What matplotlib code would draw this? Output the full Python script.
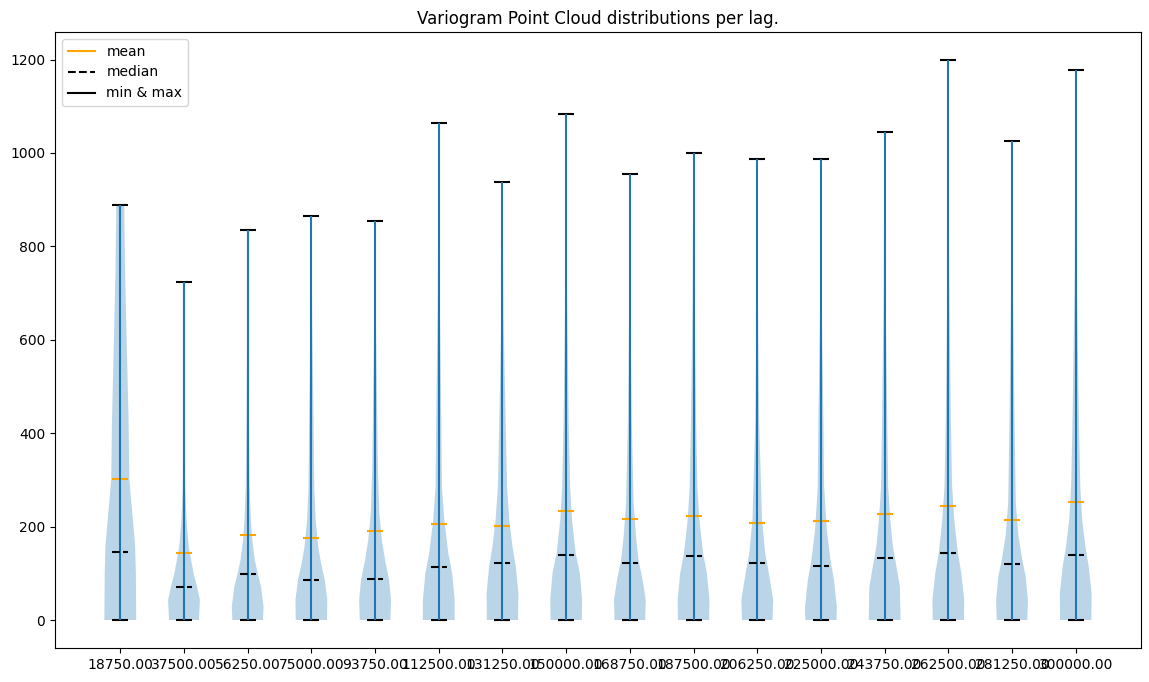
import matplotlib
matplotlib.use("Agg")
import matplotlib.pyplot as plt
from matplotlib.lines import Line2D

# lag class edges (x tick labels)
bins = [18750.0, 37500.0, 56250.0, 75000.0, 93750.0, 112500.0, 131250.0, 150000.0,
        168750.0, 187500.0, 206250.0, 225000.0, 243750.0, 262500.0, 281250.0, 300000.0]

# summary stats per lag
mins = [0] * 16
maxs = [888, 724, 834, 865, 854, 1064, 938, 1083, 955, 999, 987, 987, 1045, 1199, 1025, 1177]
means = [302, 144, 182, 176, 191, 206, 202, 234, 217, 223, 208, 212, 227, 244, 215, 253]
medians = [146, 71, 99, 86, 88, 114, 123, 140, 123, 138, 123, 116, 133, 144, 120, 140]

# violin outlines: semivariance values and relative density (width) at those values
shape_y = [
    [0, 100, 160, 210, 300, 430, 600, 750, 888],
    [0, 43, 71, 100, 128, 157, 214, 285, 428, 600, 724],
    [0, 28, 71, 100, 128, 171, 214, 285, 428, 650, 834],
    [0, 43, 86, 121, 157, 214, 285, 428, 650, 865],
    [0, 43, 86, 128, 171, 228, 321, 428, 650, 854],
    [0, 43, 100, 143, 214, 285, 428, 700, 1064],
    [0, 57, 114, 157, 214, 285, 428, 650, 938],
    [0, 43, 100, 143, 214, 285, 428, 700, 1083],
    [0, 43, 86, 128, 178, 250, 428, 650, 955],
    [0, 43, 100, 143, 214, 285, 428, 700, 999],
    [0, 43, 100, 143, 214, 428, 650, 987],
    [0, 28, 86, 128, 193, 285, 428, 650, 987],
    [0, 71, 114, 157, 214, 285, 428, 700, 1045],
    [0, 43, 100, 143, 214, 285, 428, 750, 1199],
    [0, 43, 93, 128, 178, 250, 428, 700, 1025],
    [0, 57, 114, 157, 214, 285, 428, 750, 1177],
]
shape_w = [
    [1.0, 0.98, 0.93, 0.8, 0.57, 0.52, 0.4, 0.3, 0.25],
    [0.94, 1.0, 0.82, 0.6, 0.45, 0.3, 0.16, 0.08, 0.04, 0.02, 0.01],
    [0.96, 1.0, 0.84, 0.63, 0.45, 0.29, 0.2, 0.12, 0.08, 0.03, 0.01],
    [0.98, 1.0, 0.84, 0.61, 0.43, 0.27, 0.18, 0.14, 0.05, 0.01],
    [0.96, 1.0, 0.88, 0.63, 0.43, 0.27, 0.18, 0.14, 0.05, 0.01],
    [1.0, 1.0, 0.84, 0.6, 0.35, 0.2, 0.16, 0.06, 0.01],
    [0.98, 1.0, 0.84, 0.63, 0.43, 0.29, 0.2, 0.07, 0.01],
    [0.98, 1.0, 0.86, 0.6, 0.37, 0.25, 0.16, 0.06, 0.01],
    [0.96, 1.0, 0.8, 0.55, 0.39, 0.24, 0.12, 0.05, 0.01],
    [0.98, 1.0, 0.84, 0.6, 0.37, 0.24, 0.16, 0.06, 0.01],
    [0.96, 1.0, 0.73, 0.5, 0.3, 0.12, 0.05, 0.01],
    [0.98, 1.0, 0.82, 0.6, 0.37, 0.2, 0.16, 0.06, 0.01],
    [0.98, 0.94, 0.73, 0.51, 0.35, 0.22, 0.16, 0.06, 0.01],
    [0.98, 1.0, 0.82, 0.6, 0.38, 0.24, 0.16, 0.05, 0.01],
    [0.96, 1.0, 0.86, 0.65, 0.41, 0.24, 0.16, 0.06, 0.01],
    [0.98, 1.0, 0.82, 0.61, 0.41, 0.29, 0.2, 0.06, 0.01],
]

vpstats = []
for i in range(len(bins)):
    vpstats.append(dict(coords=shape_y[i], vals=shape_w[i], mean=means[i],
                        median=medians[i], min=mins[i], max=maxs[i]))

positions = list(range(1, len(bins) + 1))

fig = plt.figure(figsize=(11.49, 6.82), dpi=100)
ax = fig.add_axes([55 / 1149, 34 / 682, 1086 / 1149, 616 / 682])

parts = ax.violin(vpstats, positions=positions, widths=0.5,
                  showmeans=True, showextrema=True, showmedians=True)
parts['cmeans'].set_color('orange')
parts['cmedians'].set_color('black')
parts['cmedians'].set_linestyle('--')
parts['cmins'].set_color('black')
parts['cmaxes'].set_color('black')

ax.set_xticks(positions)
ax.set_xticklabels(['%.2f' % b for b in bins])
ax.set_title('Variogram Point Cloud distributions per lag.')

handles = [Line2D([], [], color='orange', label='mean'),
           Line2D([], [], color='black', linestyle='--', label='median'),
           Line2D([], [], color='black', label='min & max')]
ax.legend(handles=handles, loc='upper left')

plt.savefig('out.png')
